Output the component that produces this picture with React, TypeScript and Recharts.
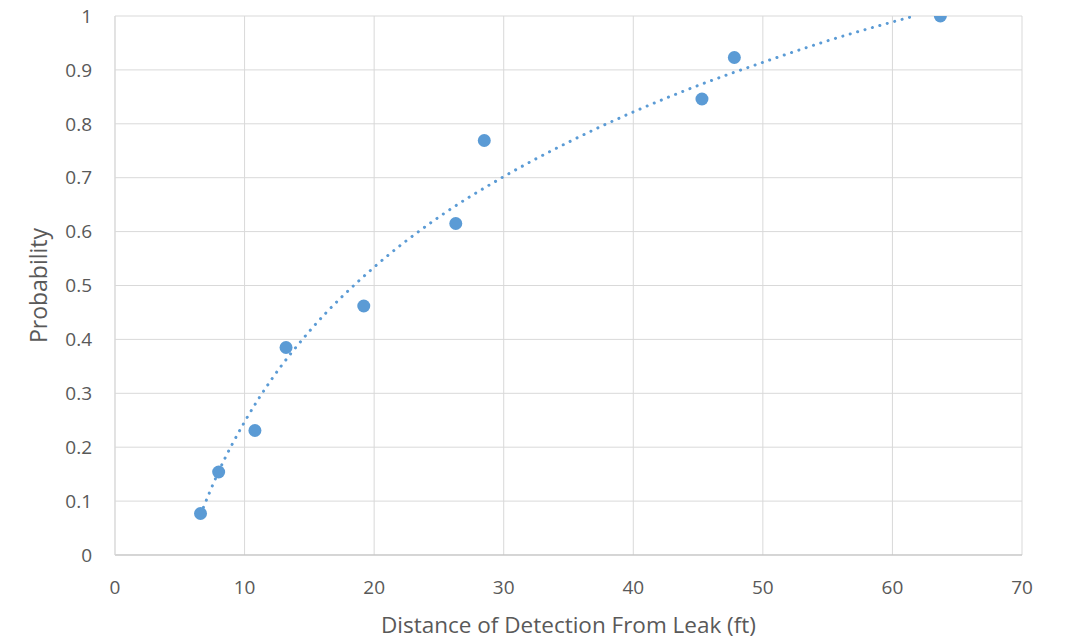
import {
  ComposedChart,
  Scatter,
  Line,
  XAxis,
  YAxis,
  CartesianGrid,
  Label,
} from "recharts";

/* ── Data ────────────────────────────────────────────────── */
const distances = [6.6, 8.0, 10.8, 13.2, 19.2, 26.3, 28.5, 45.3, 47.8, 63.7];
const probabilities = [0.077, 0.154, 0.231, 0.385, 0.462, 0.615, 0.769, 0.846, 0.923, 1.0];

// dotted trendline, sampled along the drawn curve
const trendX = [6.6, 8, 10, 12, 15, 20, 25, 30, 35, 40, 45, 50, 55, 61.7];
const trendY = [0.075, 0.155, 0.247, 0.323, 0.415, 0.534, 0.627, 0.702, 0.766, 0.822, 0.871, 0.914, 0.954, 1.0];

const xTicks = [0, 10, 20, 30, 40, 50, 60, 70];
const yTicks = [0, 0.1, 0.2, 0.3, 0.4, 0.5, 0.6, 0.7, 0.8, 0.9, 1];

const points = distances.map((x, i) => ({ x, y: probabilities[i] }));
const trend = trendX.map((x, i) => ({ x, y: trendY[i] }));

const BLUE = "#5B9BD5";
const TEXT = "#595959";
const FONT = "'Open Sans', 'Noto Sans', sans-serif";

export default function App() {
  return (
    <div style={{ position: "absolute", left: 0, top: 0, background: "#fff" }}>
      <ComposedChart
        width={1066}
        height={640}
        margin={{ top: 16, right: 44, bottom: 0, left: 0 }}
        style={{ fontFamily: FONT }}
      >
        <CartesianGrid stroke="#d9d9d9" strokeWidth={1} />
        <XAxis
          type="number"
          dataKey="x"
          domain={[0, 70]}
          ticks={xTicks}
          allowDataOverflow
          height={85}
          tickLine={false}
          tickMargin={20}
          axisLine={{ stroke: "#bfbfbf" }}
          tick={{ fill: TEXT, fontSize: 19 }}
        >
          <Label
            content={({ viewBox }: any) => (
              <text
                x={viewBox.x + viewBox.width / 2}
                y={viewBox.y + 78}
                textAnchor="middle"
                fill={TEXT}
                fontSize={22.5}
              >
                Distance of Detection From Leak (ft)
              </text>
            )}
          />
        </XAxis>
        <YAxis
          type="number"
          dataKey="y"
          domain={[0, 1]}
          ticks={yTicks}
          allowDataOverflow
          width={115}
          tickLine={false}
          tickMargin={17}
          axisLine={{ stroke: "#d9d9d9" }}
          tick={{ fill: TEXT, fontSize: 19 }}
        >
          <Label
            content={({ viewBox }: any) => {
              const cx = 38;
              const cy = viewBox.y + viewBox.height / 2;
              return (
                <text
                  x={cx}
                  y={cy}
                  transform={`rotate(-90 ${cx} ${cy})`}
                  textAnchor="middle"
                  dominantBaseline="central"
                  fill={TEXT}
                  fontSize={23}
                >
                  Probability
                </text>
              );
            }}
          />
        </YAxis>
        <Line
          data={trend}
          dataKey="y"
          type="monotone"
          stroke={BLUE}
          strokeWidth={3}
          strokeDasharray="0.1 7.6"
          strokeLinecap="round"
          dot={false}
          activeDot={false}
          isAnimationActive={false}
        />
        <Scatter
          data={points}
          dataKey="y"
          fill={BLUE}
          shape={(p: any) => <circle cx={p.cx} cy={p.cy} r={6.5} fill={BLUE} />}
          isAnimationActive={false}
        />
      </ComposedChart>
    </div>
  );
}
